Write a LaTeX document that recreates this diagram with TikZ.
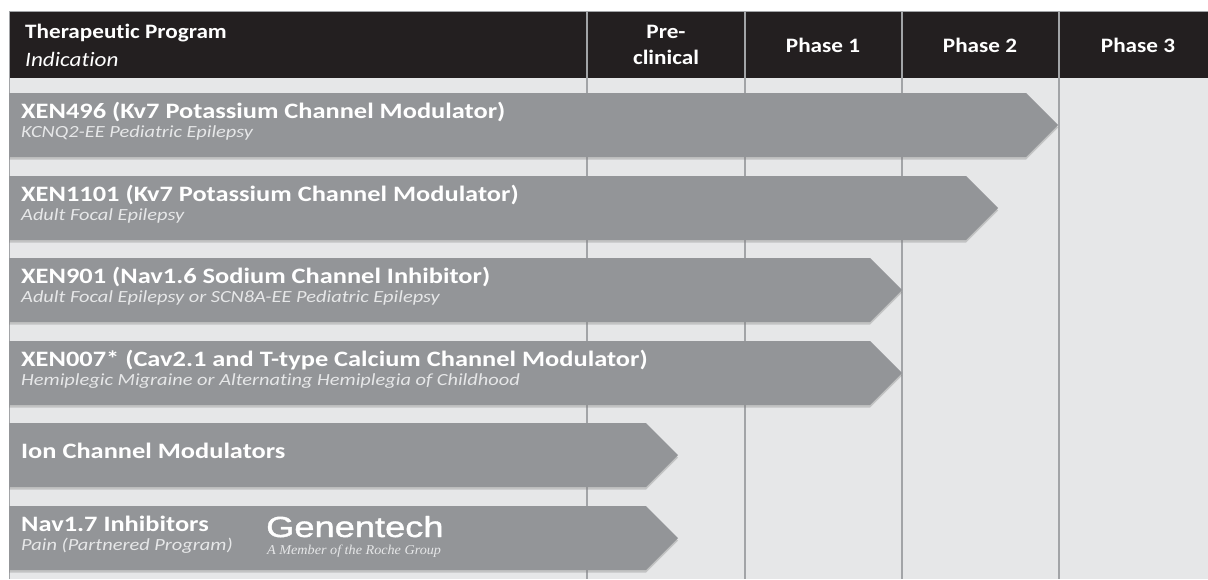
\documentclass[tikz,border=0pt]{standalone}
\usepackage{fontspec}
\setmainfont[FakeStretch=1.2,Ligatures=NoCommon]{Carlito}
\newfontfamily\headfont[FakeStretch=1.13,Ligatures=NoCommon]{Carlito}
\newfontfamily\logofont[FakeStretch=1.25,FakeBold=1.4]{Liberation Sans}
\newfontfamily\rochefont[FakeStretch=1.05]{Liberation Serif}
\usetikzlibrary{positioning,calc,shadows}

\definecolor{headblack}{HTML}{231F20}
\definecolor{bargray}{HTML}{939598}
\definecolor{bodygray}{HTML}{E6E7E8}
\definecolor{linegray}{HTML}{A2A4A7}

\tikzset{
  prog/.style={font=\fontsize{22}{24}\selectfont\bfseries, text=white, anchor=base west, inner sep=0pt},
  indic/.style={font=\fontsize{17}{19}\selectfont\itshape, text=bodygray, anchor=base west, inner sep=0pt},
  phase/.style={font=\headfont\fontsize{20.5}{25.5}\selectfont\bfseries, text=white, align=center, inner sep=0pt},
  progbar/.style={fill=bargray, drop shadow={shadow xshift=0pt, shadow yshift=-2.5pt, opacity=0.35}},
}

\begin{document}
\begin{tikzpicture}[x=1pt,y=-1pt]
\useasboundingbox (0,0) rectangle (1208,579);
% table body and header
\fill[bodygray] (9,78) rectangle (1208,579);
\fill[headblack] (9,11) rectangle (1208,78);
\draw[linegray, line width=0.8pt] (9,579) -- (9,11) -- (1208,11);
\foreach \x in {587,745,902,1059}
  \draw[linegray, line width=1.2pt] (\x,11) -- (\x,579);

% program bars: top / tip
\foreach \top/\tip in {93/1058,176/998,258/902,341/902,423/678,506/678}
  \path[progbar] (9,\top) -- ({\tip-32},\top) -- (\tip,{\top+32}) -- ({\tip-32},{\top+64}) -- (9,{\top+64}) -- cycle;

% header
\node[phase, anchor=base west] (thead) at (25,38.5) {Therapeutic Program};
\node[phase, anchor=base west, font=\headfont\fontsize{20.5}{25}\selectfont\itshape] (ihead) at (25,66) {Indication};
\node[phase] (pre) at (666,45) {Pre-\\clinical};
\node[phase] (ph1) at (823,45) {Phase 1};
\node[phase] (ph2) at (980,45) {Phase 2};
\node[phase] (ph3) at (1138,45) {Phase 3};

% programs
\node[prog] (xen496) at (21,118) {XEN496 (Kv7 Potassium Channel Modulator)};
\node[indic] (kcnq) at (21,137.5) {KCNQ2-EE Pediatric Epilepsy};
\node[prog] (xen1101) at (21,201) {XEN1101 (Kv7 Potassium Channel Modulator)};
\node[indic] (afe) at (21,220.5) {Adult Focal Epilepsy};
\node[prog] (xen901) at (21,283) {XEN901 (Nav1.6 Sodium Channel Inhibitor)};
\node[indic] (scn) at (21,302.5) {Adult Focal Epilepsy or SCN8A-EE Pediatric Epilepsy};
\node[prog] (xen007) at (21,366) {XEN007* (Cav2.1 and T-type Calcium Channel Modulator)};
\node[indic] (hemi) at (21,385.5) {Hemiplegic Migraine or Alternating Hemiplegia of Childhood};
\node[prog] (icm) at (21,458.5) {Ion Channel Modulators};
\node[prog] (nav17) at (21,531.5) {Nav1.7 Inhibitors};
\node[indic] (pain) at (21,550.5) {Pain (Partnered Program)};

% partner logo
\node[anchor=base west, inner sep=0pt, text=white, font=\logofont\fontsize{29}{31}\selectfont] (gene) at (266,537) {Genentech};
\node[anchor=base west, inner sep=0pt, text=bodygray, font=\rochefont\itshape\fontsize{13.5}{15}\selectfont] (roche) at (267,554) {A Member of the Roche Group};
\end{tikzpicture}
\end{document}
